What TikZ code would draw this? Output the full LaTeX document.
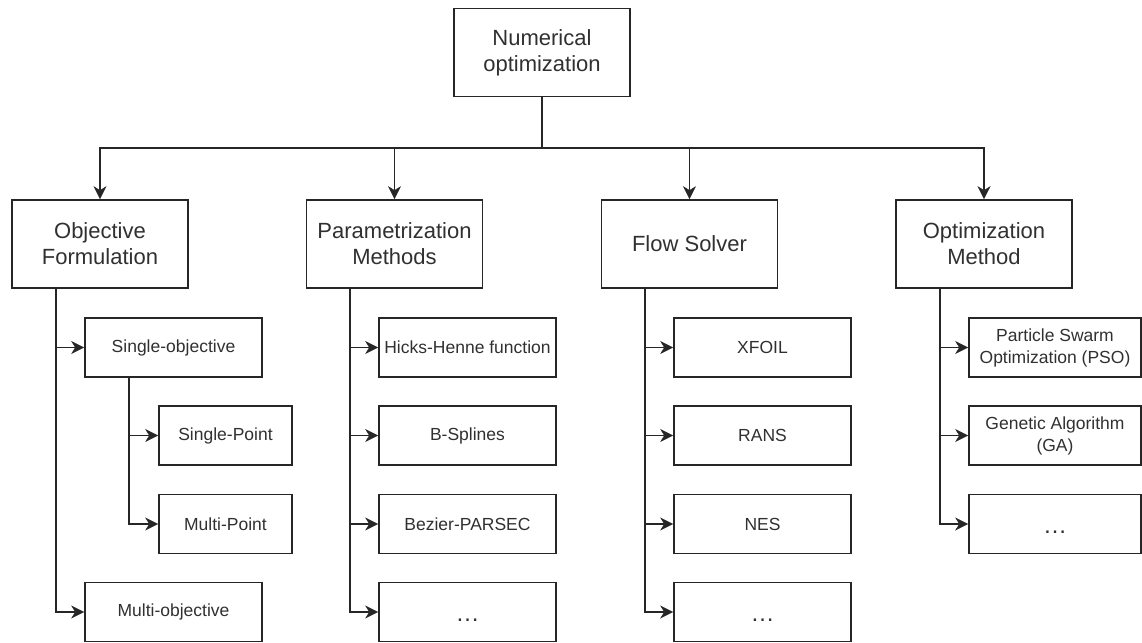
\documentclass[tikz,border=0pt]{standalone}
\usepackage{fontspec}
\setmainfont{Liberation Sans}
\usetikzlibrary{arrows.meta}
\definecolor{txt}{HTML}{303030}
\begin{document}
\begin{tikzpicture}[x=1pt,y=-1pt,
  box/.style={draw=black!85, line width=1.6pt, inner sep=0pt, align=center, text=txt},
  lvl/.style={box, minimum width=176pt, minimum height=88pt, font=\fontsize{22}{26}\selectfont},
  leaf/.style={box, minimum width=177pt, minimum height=59pt, font=\fontsize{17.5}{22}\selectfont},
  conn/.style={draw=black!85, line width=1.6pt},
  arr/.style={conn, -{Stealth[length=13pt,width=13pt,inset=4pt,line width=0.5pt,fill=black!85]}},
  dots/.style={font=\fontsize{24}{24}\selectfont}]
\useasboundingbox (0,0) rectangle (1142,642);

% top
\node[lvl] (top) at (542,52.5) {Numerical\\optimization};
\coordinate (bus) at (542,148);

% level 1
\node[lvl] (obj) at (100,244) {Objective\\Formulation};
\node[lvl] (par) at (394.5,244) {Parametrization\\Methods};
\node[lvl] (flow) at (689.5,244) {Flow Solver};
\node[lvl] (opt) at (984,244) {Optimization\\Method};

\draw[conn] (top) -- (bus);
\draw[arr] (bus) -| (obj);
\draw[arr] (bus) -| (par);
\draw[arr] (bus) -| (flow);
\draw[arr] (bus) -| (opt);

% Objective column
\node[leaf] (so) at (173.5,347.5) {Single-objective};
\node[leaf, minimum width=133pt] (sp) at (225.5,435.5) {Single-Point};
\node[leaf, minimum width=133pt] (mp) at (225.5,524) {Multi-Point};
\node[leaf] (mo) at (173.5,612) {Multi-objective};
\coordinate (objt) at (56,288);
\coordinate (sot) at (129,377);
\draw[arr] (objt) |- (so);
\draw[arr] (objt) |- (mo);
\draw[arr] (sot) |- (sp);
\draw[arr] (sot) |- (mp);

% Parametrization column
\node[leaf] (hh) at (467.5,347.5) {Hicks-Henne function};
\node[leaf] (bs) at (467.5,435.5) {B-Splines};
\node[leaf] (bp) at (467.5,524) {Bezier-PARSEC};
\node[leaf, dots] (pd) at (467.5,612) {\smash{\raisebox{-9pt}{…}}};
\coordinate (part) at (350,288);
\draw[arr] (part) |- (hh);
\draw[arr] (part) |- (bs);
\draw[arr] (part) |- (bp);
\draw[arr] (part) |- (pd);

% Flow column
\node[leaf] (xf) at (762.5,347.5) {XFOIL};
\node[leaf] (ra) at (762.5,435.5) {RANS};
\node[leaf] (ne) at (762.5,524) {NES};
\node[leaf, dots] (fd) at (762.5,612) {\smash{\raisebox{-9pt}{…}}};
\coordinate (flot) at (645,288);
\draw[arr] (flot) |- (xf);
\draw[arr] (flot) |- (ra);
\draw[arr] (flot) |- (ne);
\draw[arr] (flot) |- (fd);

% Optimization column
\node[leaf, minimum width=172pt] (pso) at (1055,347.5) {Particle Swarm\\Optimization (PSO)};
\node[leaf, minimum width=172pt] (ga) at (1055,435.5) {Genetic Algorithm\\(GA)};
\node[leaf, minimum width=172pt, dots] (od) at (1055,524) {\smash{\raisebox{-9pt}{…}}};
\coordinate (optt) at (940,288);
\draw[arr] (optt) |- (pso);
\draw[arr] (optt) |- (ga);
\draw[arr] (optt) |- (od);
\end{tikzpicture}
\end{document}
